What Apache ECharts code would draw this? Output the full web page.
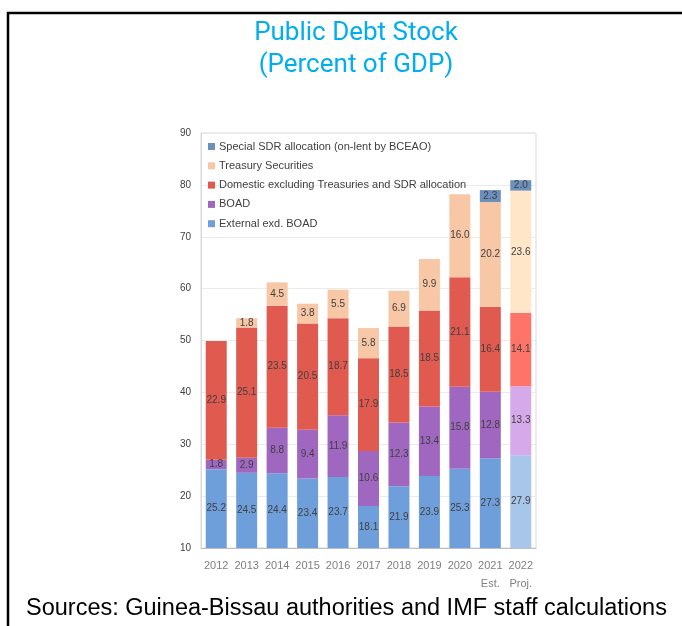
<!DOCTYPE html>
<html>
<head>
<meta charset="utf-8">
<style>
  html, body { margin: 0; padding: 0; background: #fff; }
  #chart { width: 682px; height: 626px; }
</style>
<script src="https://cdn.jsdelivr.net/npm/echarts@6/dist/echarts.min.js"></script>
</head>
<body>
<div id="chart"></div>
<script>
// data
const years = ['2012', '2013', '2014', '2015', '2016', '2017', '2018', '2019', '2020', '2021', '2022']
const yearNotes = ['', '', '', '', '', '', '', '', '', 'Est.', 'Proj.']
const external = [25.2, 24.5, 24.4, 23.4, 23.7, 18.1, 21.9, 23.9, 25.3, 27.3, 27.9]
const boad = [1.8, 2.9, 8.8, 9.4, 11.9, 10.6, 12.3, 13.4, 15.8, 12.8, 13.3]
const domestic = [22.9, 25.1, 23.5, 20.5, 18.7, 17.9, 18.5, 18.5, 21.1, 16.4, 14.1]
const treasury = [null, 1.8, 4.5, 3.8, 5.5, 5.8, 6.9, 9.9, 16.0, 20.2, 23.6]
const sdr = [null, null, null, null, null, null, null, null, null, 2.3, 2.0]
const yTicks = [10, 20, 30, 40, 50, 60, 70, 80, 90]

const seriesDefs = [
  { name: 'External exd. BOAD', data: external, color: '#6f9fda', proj: '#a8c5ea' },
  { name: 'BOAD', data: boad, color: '#a067c1', proj: '#d6a9ea' },
  { name: 'Domestic excluding Treasuries and SDR allocation', data: domestic, color: '#e05a50', proj: '#ff7468' },
  { name: 'Treasury Securities', data: treasury, color: '#f8c7a6', proj: '#ffe6c9' },
  { name: 'Special SDR allocation (on-lent by BCEAO)', data: sdr, color: '#6a90bb', proj: '#6a90bb' }
]

const chart = echarts.init(document.getElementById('chart'))

const series = seriesDefs.map((s) => ({
  name: s.name,
  type: 'bar',
  stack: 'debt',
  barWidth: 21,
  itemStyle: { color: s.color },
  data: s.data.map((v, i) => {
    // 2022 is a projection, drawn in lighter shades
    if (i === years.length - 1) {
      return { value: v, itemStyle: { color: s.proj } }
    }
    return v
  }),
  label: {
    show: true,
    position: 'inside',
    color: '#404040',
    fontSize: 10,
    fontFamily: 'Liberation Sans, sans-serif',
    formatter: (p) => (p.value == null ? '' : Number(p.value).toFixed(1))
  }
}))

const option = {
  animation: false,
  title: {
    text: 'Public Debt Stock\n(Percent of GDP)',
    left: 351,
    textAlign: 'center',
    top: 12,
    textStyle: {
      color: '#00aeef',
      fontSize: 26,
      fontWeight: 'normal',
      fontFamily: 'Roboto, sans-serif',
      lineHeight: 32
    }
  },
  legend: {
    orient: 'vertical',
    left: 203,
    top: 136,
    itemWidth: 7,
    itemHeight: 7,
    itemGap: 8.3,
    icon: 'rect',
    data: seriesDefs.map((s) => s.name).reverse(),
    textStyle: {
      color: '#404040',
      fontSize: 11,
      lineHeight: 11,
      padding: [0, 0, 0, -1],
      fontFamily: 'Liberation Sans, sans-serif'
    }
  },
  grid: {
    left: 201,
    right: 146,
    top: 133,
    bottom: 78,
    show: true,
    borderColor: '#d9d9d9',
    borderWidth: 1
  },
  xAxis: {
    type: 'category',
    data: years,
    axisLine: { show: true, lineStyle: { color: '#bfbfbf' } },
    axisTick: { show: false },
    axisLabel: {
      interval: 0,
      color: '#7f7f7f',
      fontSize: 11,
      lineHeight: 18,
      margin: 9,
      fontFamily: 'Liberation Sans, sans-serif',
      formatter: (v, i) => (yearNotes[i] ? v + '\n' + yearNotes[i] : v)
    }
  },
  yAxis: {
    type: 'value',
    min: yTicks[0],
    max: yTicks[yTicks.length - 1],
    interval: 10,
    axisLine: { show: true, lineStyle: { color: '#d9d9d9' } },
    axisTick: { show: false },
    axisLabel: {
      color: '#404040',
      fontSize: 10,
      margin: 10,
      fontFamily: 'Liberation Sans, sans-serif'
    },
    splitLine: { lineStyle: { color: '#ebebeb' } }
  },
  graphic: [
    {
      type: 'polyline',
      shape: { points: [[8, 626], [8, 13], [682, 13]] },
      style: { stroke: '#000', lineWidth: 2.5, fill: null }
    },
    {
      type: 'text',
      x: 26,
      y: 609,
      style: {
        text: 'Sources: Guinea-Bissau authorities and IMF staff calculations',
        fill: '#000',
        fontSize: 23.5,
        verticalAlign: 'middle',
        fontFamily: 'Liberation Sans, Arial, sans-serif'
      }
    }
  ],
  series: series
}

chart.setOption(option)
</script>
</body>
</html>
